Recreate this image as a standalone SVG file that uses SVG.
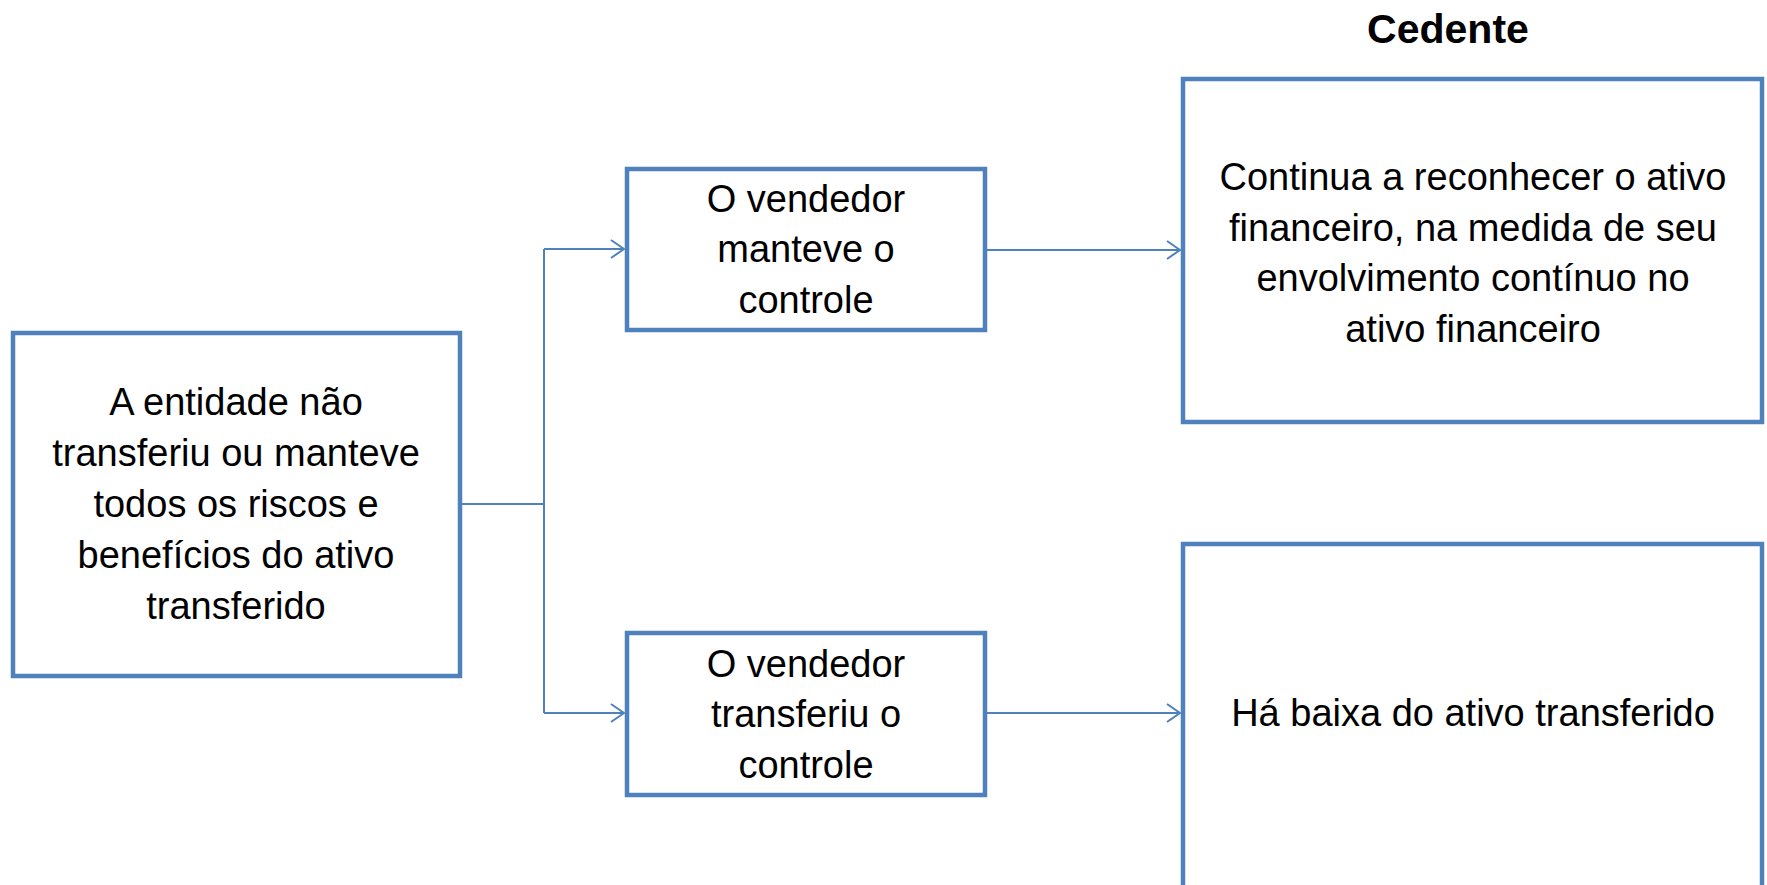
<svg xmlns="http://www.w3.org/2000/svg" width="1767" height="885" viewBox="0 0 1767 885">
<style>
.box{fill:#fff;stroke:#4F81BD;stroke-width:4.5}
.t{font-family:"Liberation Sans",Arial,sans-serif;font-size:38px;fill:#000;text-anchor:middle}
.h{font-family:"Liberation Sans",Arial,sans-serif;font-size:41px;font-weight:bold;fill:#000;text-anchor:middle}
.c{fill:none;stroke:#4F81BD;stroke-width:2}
</style>
<defs>
<marker id="arr" markerUnits="userSpaceOnUse" markerWidth="16" markerHeight="22" refX="14" refY="10" orient="auto" viewBox="0 0 16 22">
<path d="M1,1 L14,10 L1,19" fill="none" stroke="#4F81BD" stroke-width="2"/>
</marker>
</defs>
<rect width="1767" height="885" fill="#fff"/>
<g id="connectors">
<line class="c" x1="462" y1="504" x2="544" y2="504"/>
<line class="c" x1="544" y1="249" x2="544" y2="713"/>
<line class="c" x1="544" y1="249" x2="624" y2="249" marker-end="url(#arr)"/>
<line class="c" x1="544" y1="713" x2="624" y2="713" marker-end="url(#arr)"/>
<line class="c" x1="987" y1="250" x2="1180" y2="250" marker-end="url(#arr)"/>
<line class="c" x1="987" y1="713" x2="1180" y2="713" marker-end="url(#arr)"/>
</g>
<g id="title">
<text class="h" x="1448" y="43">Cedente</text>
</g>
<g id="n1">
<rect class="box" x="13" y="333" width="447" height="343"/>
<text class="t" x="236" y="415">A entidade não</text>
<text class="t" x="236" y="466">transferiu ou manteve</text>
<text class="t" x="236" y="517">todos os riscos e</text>
<text class="t" x="236" y="568">benefícios do ativo</text>
<text class="t" x="236" y="619">transferido</text>
</g>
<g id="n2">
<rect class="box" x="627" y="169" width="358" height="161"/>
<text class="t" x="806" y="212">O vendedor</text>
<text class="t" x="806" y="262">manteve o</text>
<text class="t" x="806" y="313">controle</text>
</g>
<g id="n3">
<rect class="box" x="627" y="633" width="358" height="162"/>
<text class="t" x="806" y="677">O vendedor</text>
<text class="t" x="806" y="727">transferiu o</text>
<text class="t" x="806" y="778">controle</text>
</g>
<g id="n4">
<rect class="box" x="1183" y="79" width="579" height="343"/>
<text class="t" x="1473" y="190">Continua a reconhecer o ativo</text>
<text class="t" x="1473" y="241">financeiro, na medida de seu</text>
<text class="t" x="1473" y="291">envolvimento contínuo no</text>
<text class="t" x="1473" y="342">ativo financeiro</text>
</g>
<g id="n5">
<rect class="box" x="1183" y="544" width="579" height="400"/>
<text class="t" x="1473" y="726">Há baixa do ativo transferido</text>
</g>
</svg>
